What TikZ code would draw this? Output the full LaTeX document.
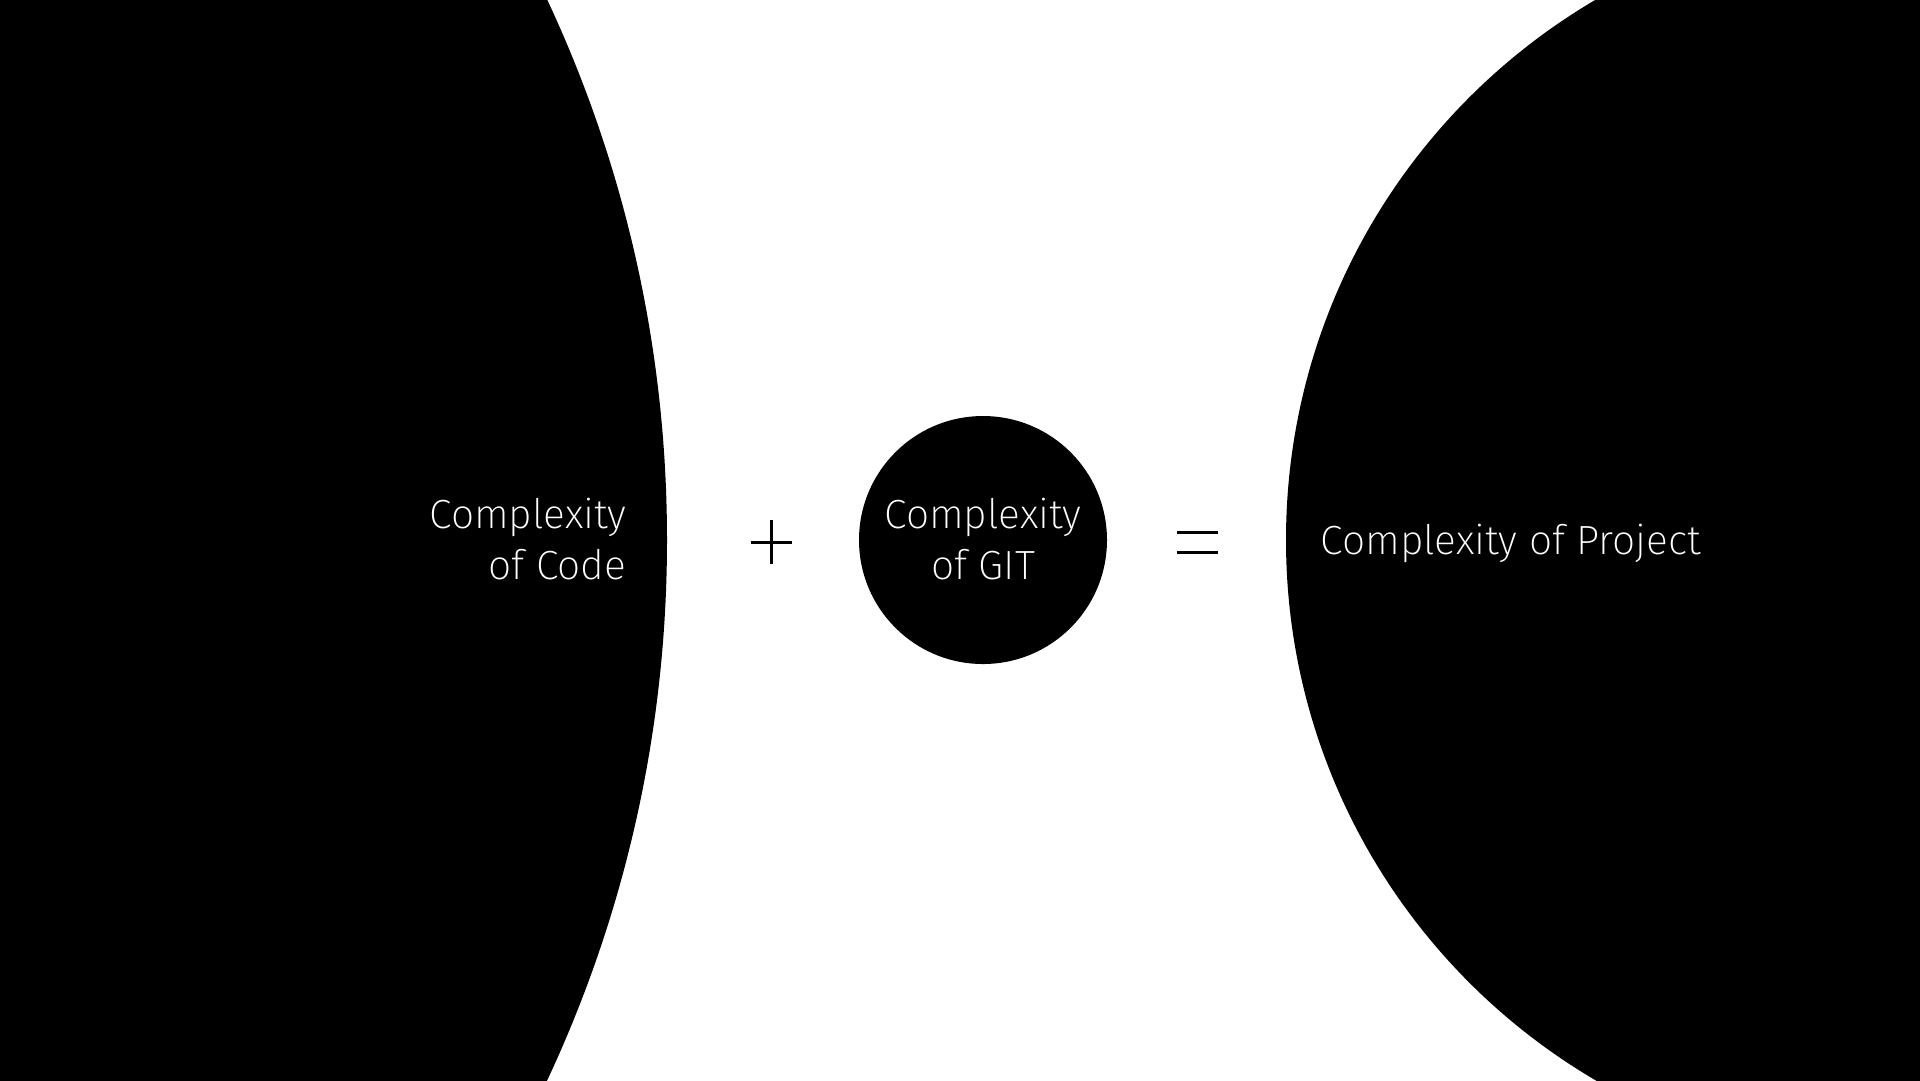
\documentclass[tikz,border=0pt]{standalone}
\usepackage{fontspec}
\setmainfont{Fira Sans}[UprightFont=* ExtraLight]
\usetikzlibrary{positioning}
\tikzset{
    blob/.style = {
        fill = black,
        },
    label text/.style = {
        text = white,
        font = \fontsize{11.6}{14.5}\selectfont,
        inner sep = 0pt,
        },
    sign/.style = {
        draw = black,
        line width = 0.3mm,
        },
}

\begin{document}
\begin{tikzpicture}[x=0.1mm, y=-0.1mm]
            \useasboundingbox[fill=white] (0,0) rectangle (1920,1080);
            \begin{scope}
                \clip (0,0) rectangle (1920,1080);
                \fill[blob] (-608,540) circle [radius=1275];
                \fill[blob] (1912,540) circle [radius=626];
            \end{scope}
            \fill[blob] (983,540) circle [radius=124];

            \node[label text, anchor=east, align=right] (code) at (627,539) {Complexity\\of Code};
            \node[label text, align=center] (git) at (983,539) {Complexity\\of GIT};
            \node[label text, anchor=west] (project) at (1320,543) {Complexity of Project};

            \draw[sign] (751,542) -- (792,542) (771,520) -- (771,564);
            \draw[sign] (1177,532) -- (1218,532) (1177,552) -- (1218,552);
        \end{tikzpicture}
\end{document}
